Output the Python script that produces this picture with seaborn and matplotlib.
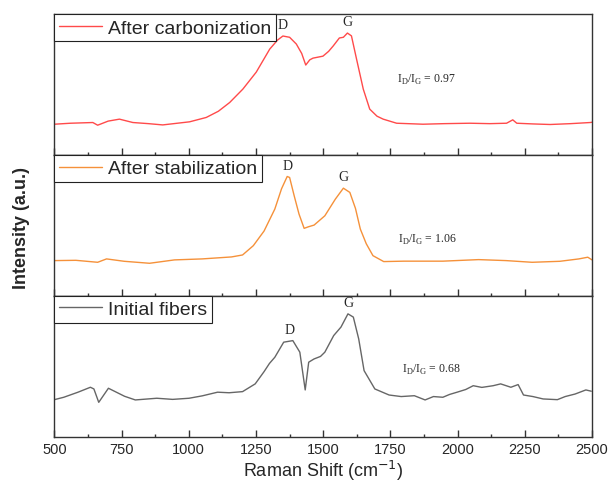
import numpy as np
import pandas as pd
import matplotlib
matplotlib.use('Agg')
import matplotlib.pyplot as plt
from matplotlib.ticker import MultipleLocator
import seaborn as sns

# Raman spectra (x in cm-1, intensity normalised per panel)
carb_x = [500, 560, 643, 661, 700, 742, 792, 850, 903, 1003, 1065, 1110, 1152, 1201, 1251,
          1301, 1330, 1350, 1375, 1400, 1420, 1435, 1450, 1462, 1499, 1520, 1537, 1560,
          1575, 1590, 1605, 1624, 1649, 1673, 1700, 1723, 1773, 1871, 1950, 2046, 2120,
          2182, 2205, 2220, 2280, 2344, 2420, 2493, 2500]
carb_y = [0.218, 0.225, 0.230, 0.211, 0.240, 0.254, 0.230, 0.222, 0.213, 0.235, 0.266, 0.310,
          0.372, 0.467, 0.588, 0.751, 0.815, 0.844, 0.835, 0.787, 0.720, 0.638, 0.675, 0.687,
          0.701, 0.735, 0.773, 0.830, 0.835, 0.865, 0.845, 0.680, 0.467, 0.325, 0.275, 0.254,
          0.225, 0.218, 0.222, 0.225, 0.222, 0.225, 0.249, 0.225, 0.220, 0.216, 0.222, 0.230,
          0.232]

stab_x = [500, 580, 661, 694, 760, 854, 947, 1050, 1159, 1200, 1240, 1280, 1320, 1345, 1366,
          1375, 1392, 1410, 1429, 1445, 1466, 1506, 1545, 1575, 1599, 1620, 1638, 1660, 1685,
          1725, 1800, 1945, 2078, 2180, 2277, 2380, 2451, 2484, 2500]
stab_y = [0.250, 0.252, 0.238, 0.262, 0.245, 0.231, 0.255, 0.262, 0.276, 0.290, 0.356, 0.460,
          0.616, 0.760, 0.847, 0.840, 0.710, 0.580, 0.479, 0.490, 0.502, 0.568, 0.686, 0.764,
          0.734, 0.620, 0.474, 0.370, 0.285, 0.243, 0.246, 0.246, 0.257, 0.250, 0.238, 0.245,
          0.262, 0.274, 0.255]

init_x = [500, 535, 588, 634, 647, 665, 701, 761, 801, 881, 940, 1001, 1050, 1107, 1150, 1200,
          1247, 1280, 1300, 1320, 1353, 1387, 1413, 1433, 1446, 1466, 1490, 1506, 1539, 1566,
          1592, 1612, 1632, 1652, 1692, 1745, 1790, 1839, 1879, 1910, 1945, 1970, 1998, 2030,
          2058, 2090, 2132, 2160, 2198, 2225, 2245, 2280, 2318, 2371, 2400, 2437, 2477, 2497]
init_y = [0.263, 0.280, 0.316, 0.351, 0.339, 0.244, 0.344, 0.287, 0.261, 0.273, 0.265, 0.273,
          0.290, 0.316, 0.312, 0.320, 0.375, 0.462, 0.520, 0.564, 0.671, 0.682, 0.600, 0.332,
          0.529, 0.552, 0.570, 0.600, 0.718, 0.778, 0.872, 0.849, 0.694, 0.469, 0.339, 0.296,
          0.285, 0.291, 0.261, 0.285, 0.280, 0.300, 0.316, 0.335, 0.362, 0.350, 0.362, 0.375,
          0.351, 0.370, 0.296, 0.285, 0.268, 0.263, 0.285, 0.303, 0.332, 0.323]

labels = ['After carbonization', 'After stabilization', 'Initial fibers']
colors = ['#ff4a4a', '#f5913a', '#666666']
ratios = ['0.97', '1.06', '0.68']
ratio_pos = [(1774, 0.538), (1778, 0.403), (1792, 0.481)]
d_peaks = [1350, 1366, 1375]
g_peaks = [1590, 1575, 1592]

spectra = [(carb_x, carb_y), (stab_x, stab_y), (init_x, init_y)]

sns.set_style('ticks')
plt.rcParams['font.family'] = ['Liberation Sans', 'DejaVu Sans']

fig, axes = plt.subplots(3, 1, sharex=True, figsize=(6.11, 4.85), dpi=100)
plt.subplots_adjust(left=0.089, right=0.969, top=0.969, bottom=0.0975, hspace=0)

for ax, (xs, ys), lab, col, r, rp, dp, gp in zip(axes, spectra, labels, colors, ratios,
                                                   ratio_pos, d_peaks, g_peaks):
    df = pd.DataFrame({'shift': xs, 'intensity': ys})
    sns.lineplot(data=df, x='shift', y='intensity', ax=ax, color=col, lw=1.0, label=lab)
    ax.set_xlim(500, 2500)
    ax.set_ylim(0, 1)
    ax.set_yticks([])
    ax.set_ylabel('')
    ax.set_xlabel('')
    for s in ax.spines.values():
        s.set_visible(True)
        s.set_color('#333333')
        s.set_linewidth(1.0)
    ax.xaxis.set_major_locator(MultipleLocator(250))
    ax.xaxis.set_minor_locator(MultipleLocator(125))
    ax.tick_params(axis='x', which='major', direction='in', length=5, width=1,
                   color='#333333', labelsize=10.5)
    ax.tick_params(axis='x', which='minor', direction='in', length=2.5, width=1,
                   color='#333333')
    leg = ax.legend(loc='upper left', borderaxespad=0, fancybox=False, framealpha=1,
                    edgecolor='#222222', fontsize=14, handlelength=2.2, handletextpad=0.3,
                    borderpad=0.25)
    leg.get_frame().set_linewidth(0.8)

    dy = np.interp(dp, xs, ys)
    gy = np.interp(gp, xs, ys)
    ax.text(dp, dy + 0.035, 'D', ha='center', va='bottom', fontsize=10,
            family='Liberation Serif')
    ax.text(gp, gy + 0.035, 'G', ha='center', va='bottom', fontsize=10,
            family='Liberation Serif')
    ax.text(rp[0], rp[1], r'I$_\mathregular{D}$/I$_\mathregular{G}$ = ' + r,
            ha='left', va='center', fontsize=8.5, family='Liberation Serif')

axes[-1].set_xlabel('Raman Shift (cm$^{-1}$)', fontsize=13, labelpad=2)
fig.text(0.036, 0.53, 'Intensity (a.u.)', rotation=90, ha='center', va='center',
         fontsize=13, fontweight='bold')

plt.savefig('out.png', dpi=100)
